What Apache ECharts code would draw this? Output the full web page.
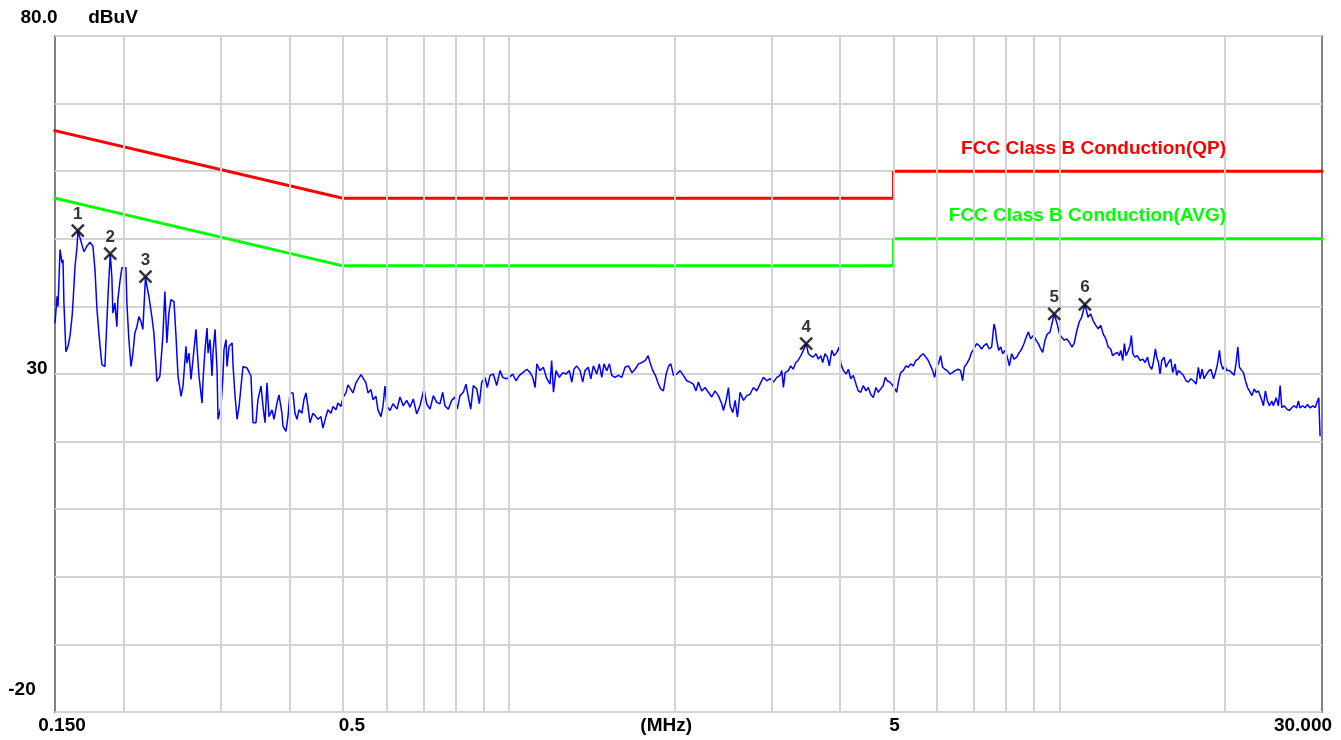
<!DOCTYPE html>
<html>
<head>
<meta charset="utf-8">
<title>Conducted emission scan</title>
<script src="https://cdn.jsdelivr.net/npm/echarts@6/dist/echarts.min.js"></script>
<style>
html, body { margin: 0; padding: 0; background: #fff; }
#chart { width: 1341px; height: 740px; }
</style>
</head>
<body>
<div id="chart"></div>
<script>
// scan trace, MHz / dBuV
var traceFreq = [
  0.1500, 0.1513, 0.1519, 0.1532, 0.1545, 0.1551, 0.1557, 0.1570, 0.1584, 0.1597,
  0.1611, 0.1617, 0.1631, 0.1645, 0.1651, 0.1665, 0.1679, 0.1693, 0.1714, 0.1736,
  0.1758, 0.1773, 0.1788, 0.1810, 0.1825, 0.1848, 0.1864, 0.1872, 0.1890, 0.1903,
  0.1911, 0.1927, 0.1943, 0.1951, 0.1968, 0.1984, 0.2018, 0.2026, 0.2043, 0.2061,
  0.2078, 0.2095, 0.2113, 0.2130, 0.2148, 0.2166, 0.2190, 0.2203, 0.2221, 0.2249,
  0.2268, 0.2287, 0.2297, 0.2326, 0.2355, 0.2375, 0.2395, 0.2415, 0.2436, 0.2467,
  0.2488, 0.2509, 0.2541, 0.2562, 0.2594, 0.2605, 0.2627, 0.2649, 0.2671, 0.2682,
  0.2705, 0.2716, 0.2739, 0.2774, 0.2786, 0.2809, 0.2833, 0.2845, 0.2868, 0.2892,
  0.2904, 0.2929, 0.2954, 0.2966, 0.3003, 0.3028, 0.3041, 0.3067, 0.3080, 0.3106,
  0.3146, 0.3159, 0.3185, 0.3212, 0.3239, 0.3279, 0.3293, 0.3348, 0.3376, 0.3404,
  0.3433, 0.3476, 0.3505, 0.3550, 0.3580, 0.3610, 0.3640, 0.3671, 0.3717, 0.3748,
  0.3795, 0.3827, 0.3875, 0.3891, 0.3940, 0.3974, 0.4007, 0.4058, 0.4092, 0.4126,
  0.4161, 0.4213, 0.4248, 0.4284, 0.4320, 0.4356, 0.4411, 0.4467, 0.4504, 0.4561,
  0.4599, 0.4657, 0.4697, 0.4757, 0.4797, 0.4857, 0.4898, 0.4960, 0.5001, 0.5064,
  0.5107, 0.5172, 0.5215, 0.5281, 0.5326, 0.5393, 0.5438, 0.5506, 0.5553, 0.5623,
  0.5670, 0.5741, 0.5789, 0.5862, 0.5912, 0.5962, 0.6012,
  0.609, 0.6165, 0.627, 0.6348, 0.6436, 0.6528, 0.6619, 0.6711, 0.6808, 0.6902,
  0.7018, 0.7096, 0.7197, 0.7298, 0.7401, 0.7504, 0.7589, 0.7663, 0.777, 0.788,
  0.799, 0.8066, 0.8159, 0.8273, 0.8366, 0.8447, 0.8533, 0.8627, 0.875, 0.8846,
  0.8935, 0.9059, 0.9146, 0.925, 0.9378, 0.9512, 0.9645, 0.9755, 0.989, 1.003,
  1.017, 1.031, 1.046, 1.061, 1.079, 1.094, 1.106, 1.117, 1.125, 1.14,
  1.156, 1.173, 1.189, 1.197, 1.206, 1.219, 1.236, 1.254, 1.271, 1.289,
  1.302, 1.314, 1.329, 1.348, 1.363, 1.376, 1.395, 1.41, 1.425, 1.445,
  1.461, 1.476, 1.49, 1.507, 1.524, 1.539, 1.56, 1.582, 1.605, 1.627,
  1.65, 1.674, 1.697, 1.721, 1.746, 1.771, 1.792, 1.806, 1.827, 1.847,
  1.871, 1.889, 1.91, 1.932, 1.953, 1.97, 1.992, 2.02, 2.048, 2.076,
  2.106, 2.135, 2.165, 2.189, 2.21, 2.242, 2.273, 2.305, 2.338, 2.369,
  2.403, 2.438, 2.455, 2.483, 2.507, 2.524, 2.553, 2.578, 2.603, 2.632,
  2.669, 2.707, 2.744, 2.783, 2.822, 2.861, 2.902, 2.944, 2.984, 3.026,
  3.069, 3.111,
  3.133, 3.155, 3.177, 3.221, 3.252, 3.287, 3.323, 3.355, 3.392, 3.429,
  3.47, 3.502, 3.536, 3.575, 3.615, 3.65, 3.688, 3.718, 3.754, 3.791,
  3.823, 3.862, 3.9, 3.944, 3.982, 4.011, 4.055, 4.101, 4.14, 4.18,
  4.226, 4.274, 4.315, 4.358, 4.406, 4.455, 4.499, 4.544, 4.594, 4.646,
  4.691, 4.738, 4.79, 4.83, 4.871, 4.926, 4.981, 5.029, 5.065, 5.108,
  5.151, 5.207, 5.266, 5.317, 5.37, 5.429, 5.49, 5.543, 5.6, 5.661,
  5.725, 5.781, 5.839, 5.888, 5.937, 5.987, 6.045, 6.088, 6.139, 6.198,
  6.258, 6.33, 6.401, 6.463, 6.553, 6.619, 6.675, 6.72, 6.788, 6.862,
  6.931, 6.998, 7.077, 7.155, 7.227, 7.297, 7.38, 7.461, 7.537, 7.61,
  7.652, 7.696, 7.761, 7.827, 7.893, 7.97, 8.048, 8.115, 8.196, 8.276,
  8.369, 8.461, 8.546, 8.629, 8.702, 8.786, 8.874, 8.972, 9.074, 9.162,
  9.252, 9.33, 9.42, 9.51, 9.619, 9.79, 9.926, 10.01, 10.11, 10.21,
  10.32, 10.43, 10.54, 10.64, 10.76, 10.87, 10.98, 11.13, 11.28, 11.4,
  11.52, 11.65, 11.77, 11.89, 12.02, 12.15, 12.27,
  12.40, 12.50, 12.62, 12.75, 12.85, 12.93, 13.04, 13.13, 13.22, 13.35,
  13.44, 13.52, 13.60, 13.72, 13.86, 14.02, 14.18, 14.32, 14.46, 14.58,
  14.72, 14.82, 14.95, 15.03, 15.14, 15.24, 15.35, 15.50, 15.63, 15.78,
  15.94, 16.07, 16.23, 16.34, 16.46, 16.62, 16.80, 16.99, 17.15, 17.33,
  17.52, 17.72, 17.89, 18.02, 18.17, 18.32, 18.53, 18.69, 18.85, 19.06,
  19.21, 19.38, 19.54, 19.65, 19.82, 19.99, 20.16, 20.37, 20.57, 20.77,
  20.95, 21.10, 21.24, 21.46, 21.60, 21.78, 21.97, 22.15, 22.38, 22.59,
  22.78, 23.00, 23.16, 23.35, 23.48, 23.68, 23.88, 24.08, 24.32, 24.48,
  24.76, 25.00, 25.18, 25.36, 25.61, 25.90, 26.18, 26.44, 26.69, 26.99,
  27.18, 27.37, 27.68, 27.95, 28.22, 28.54, 28.87, 29.15, 29.43, 29.60,
  29.68, 29.76
];
var traceLevel = [
  37.5, 41.5, 40.0, 48.4, 46.4, 46.9, 40.5, 33.3, 34.1, 35.6,
  38.5, 40.5, 45.9, 48.9, 51.2, 50.2, 49.1, 48.1, 48.9, 49.5,
  48.9, 45.4, 39.5, 34.3, 31.4, 31.1, 38.0, 41.5, 47.8, 44.2,
  39.0, 40.5, 37.0, 41.0, 43.7, 45.7, 45.7, 40.5, 35.1, 31.1,
  33.1, 36.1, 37.0, 38.5, 37.8, 36.6, 44.4, 43.0, 41.5, 38.5,
  36.1, 31.6, 28.9, 29.7, 35.6, 42.2, 34.6, 39.0, 41.0, 40.7,
  35.6, 29.7, 26.7, 28.2, 34.1, 31.6, 33.1, 29.2, 32.1, 33.6,
  36.6, 34.1, 29.7, 25.7, 29.2, 33.6, 36.8, 33.1, 35.1, 29.7,
  33.1, 36.6, 30.6, 23.3, 25.2, 29.7, 33.6, 35.1, 31.1, 34.1,
  34.6, 31.1, 26.7, 23.3, 25.2, 29.7, 31.1, 30.9, 30.9, 29.7,
  22.8, 22.8, 26.2, 28.2, 25.2, 22.8, 28.7, 23.7, 24.7, 23.3,
  25.7, 26.9, 24.2, 22.3, 21.5, 23.7, 27.2, 27.2, 24.2, 23.3,
  24.7, 24.2, 26.2, 27.2, 25.2, 22.8, 24.2, 23.7, 23.3, 23.7,
  22.0, 23.7, 24.7, 24.2, 25.2, 24.7, 25.7, 25.2, 26.5, 27.2,
  28.4, 27.7, 27.2, 28.7, 29.2, 29.9, 29.7, 28.7, 27.2, 27.7,
  26.2, 26.7, 24.7, 23.7, 25.2, 28.2, 25.2,
  24.6, 25.6, 24.8, 26.6, 25.3, 26.1, 25.1, 26.3, 24.1, 25.3,
  27.8, 25.6, 24.8, 26.8, 25.8, 25.6, 27.3, 25.3, 24.8, 26.1,
  26.6, 24.8, 26.8, 27.3, 28.5, 26.6, 24.8, 28.3, 27.8, 25.6,
  28.8, 29.5, 28.0, 29.8, 30.0, 28.3, 30.5, 29.5, 29.3, 29.5,
  30.0, 29.0, 29.8, 30.2, 30.7, 30.2, 29.5, 28.0, 31.5, 30.5,
  31.0, 29.3, 28.5, 32.0, 27.3, 30.5, 29.5, 30.2, 30.0, 30.5,
  28.8, 30.7, 31.2, 30.5, 28.8, 30.5, 31.0, 29.3, 31.2, 30.0,
  31.5, 29.5, 31.5, 30.5, 31.5, 29.8, 29.5, 29.8, 29.5, 31.0,
  31.2, 30.2, 30.7, 31.5, 31.7, 32.0, 32.7, 31.7, 30.5, 29.8,
  28.5, 27.8, 27.5, 30.0, 31.2, 31.5, 29.8, 30.0, 30.5, 29.8,
  29.0, 28.8, 28.5, 27.5, 28.8, 27.5, 28.0, 27.3, 26.6, 27.5,
  26.8, 25.6, 24.6, 26.1, 28.0, 25.3, 24.3, 26.1, 23.6, 27.3,
  26.1, 26.8, 27.0, 28.0, 27.5, 28.5, 29.5, 29.0, 29.3, 28.8,
  29.5, 29.8,
  30.5, 28.0, 30.2, 30.5, 31.2, 30.7, 31.7, 32.0, 32.7, 33.5,
  34.5, 33.0, 32.7, 32.5, 33.0, 32.2, 32.7, 31.7, 33.0, 32.5,
  31.2, 33.5, 32.7, 33.2, 34.0, 31.5, 30.5, 30.0, 30.7, 29.3,
  29.8, 28.5, 27.5, 27.3, 28.3, 27.5, 28.0, 27.0, 26.5, 28.0,
  27.3, 27.8, 28.3, 29.5, 29.0, 28.8, 28.3, 27.8, 27.3, 29.0,
  30.2, 30.5, 31.2, 31.0, 31.5, 31.2, 32.0, 32.2, 32.7, 33.0,
  32.5, 32.0, 31.2, 30.5, 29.5, 31.0, 31.7, 32.7, 31.0, 30.7,
  30.5, 30.0, 30.2, 30.5, 30.7, 30.5, 29.0, 31.0, 31.5, 32.2,
  33.2, 33.7, 34.5, 34.2, 33.7, 34.2, 34.5, 33.7, 34.0, 37.4,
  36.7, 35.0, 33.5, 34.0, 33.0, 33.5, 32.5, 31.2, 33.0, 32.2,
  32.5, 33.2, 33.7, 34.5, 35.4, 36.2, 35.2, 35.7, 35.0, 34.5,
  33.7, 33.2, 35.0, 35.9, 36.2, 38.9, 37.2, 35.9, 35.4, 35.0,
  35.2, 34.7, 34.0, 34.5, 36.4, 37.7, 38.4, 40.3, 38.4, 38.9,
  37.9, 37.2, 36.7, 37.2, 35.9, 35.2, 34.0,
  33.7, 32.7, 33.0, 33.2, 32.7, 33.5, 32.0, 34.5, 32.7, 33.5,
  34.2, 35.7, 33.0, 32.5, 32.7, 32.0, 32.2, 31.7, 32.5, 31.2,
  30.7, 31.7, 33.7, 32.5, 31.7, 30.0, 32.0, 32.5, 31.0, 31.7,
  32.2, 30.2, 31.5, 29.8, 30.5, 30.2, 29.8, 29.0, 28.8, 29.3,
  29.0, 28.5, 31.0, 29.3, 30.7, 29.3, 30.0, 30.5, 30.7, 29.3,
  30.2, 31.5, 33.5, 31.7, 30.7, 31.2, 30.5, 30.5, 30.2, 29.8,
  31.7, 34.0, 31.0, 30.5, 30.2, 29.0, 28.0, 27.5, 26.8, 27.8,
  27.3, 27.5, 26.8, 26.0, 25.3, 27.5, 26.0, 25.3, 26.0, 25.3,
  26.5, 25.3, 28.3, 25.0, 25.3, 24.8, 24.6, 25.0, 25.3, 25.0,
  26.0, 25.0, 25.3, 25.0, 25.5, 25.0, 25.3, 25.0, 26.0, 26.5,
  23.6, 20.8
];

// FCC Part 15 class B conducted limits
var qpFreq = [0.15, 0.5, 5, 5, 30];
var qpLevel = [66, 56, 56, 60, 60];
var avgFreq = [0.15, 0.5, 5, 5, 30];
var avgLevel = [56, 46, 46, 50, 50];

// peak markers
var markNames = ['1', '2', '3', '4', '5', '6'];
var markFreq = [0.165, 0.189, 0.219, 3.47, 9.79, 11.13];
var markLevel = [51.2, 47.8, 44.4, 34.5, 38.9, 40.3];

// vertical log grid lines
var gridFreqs = [0.2, 0.3, 0.4, 0.5, 0.6, 0.7, 0.8, 0.9, 1, 2, 3, 4, 5, 6, 7, 8, 9, 10, 20];

// axis texts
var xTickValues = [0.15, 0.5, 5, 30];
var xTickLabels = ['0.150', '0.5', '5', '30.000'];
var yTickValues = [80, 30, -20];
var yTickLabels = ['80.0', '30', '-20'];
var xUnit = '(MHz)';
var yUnit = 'dBuV';
var qpName = 'FCC Class B Conduction(QP)';
var avgName = 'FCC Class B Conduction(AVG)';

function zip(a, b) {
    var out = [];
    for (var i = 0; i < a.length; i++) out.push([a[i], b[i]]);
    return out;
}

var FONT = 'bold 19px "Liberation Sans", Arial, sans-serif';
var GRID_COLOR = '#d3d3d3';

var myChart = echarts.init(document.getElementById('chart'));

var markData = markNames.map(function(n, i) {
    return { name: n, value: [markFreq[i], markLevel[i]] };
});

var option = {
    animation: false,
    backgroundColor: '#ffffff',
    grid: {
        left: 55, right: 19, top: 36, bottom: 28,
        show: true,
        borderColor: '#808080',
        borderWidth: 2,
        backgroundColor: '#ffffff'
    },
    xAxis: {
        type: 'log',
        logBase: 10,
        min: 0.15,
        max: 30,
        axisLine: { show: false },
        axisTick: { show: false },
        axisLabel: { show: false },
        splitLine: { show: false }
    },
    yAxis: {
        type: 'value',
        min: -20,
        max: 80,
        interval: 10,
        axisLine: { show: false },
        axisTick: { show: false },
        axisLabel: { show: false },
        splitLine: { show: true, lineStyle: { color: GRID_COLOR, width: 2 } }
    },
    series: [
        {
            name: 'grid',
            type: 'line',
            z: 1,
            silent: true,
            showSymbol: false,
            data: [[0.15, -20]],
            lineStyle: { opacity: 0 },
            markLine: {
                silent: true,
                symbol: ['none', 'none'],
                label: { show: false },
                lineStyle: { color: GRID_COLOR, width: 2, type: 'solid' },
                data: gridFreqs.map(function(f) { return { xAxis: f }; })
            }
        },
        {
            name: qpName,
            type: 'line',
            z: 3,
            showSymbol: false,
            data: zip(qpFreq, qpLevel),
            lineStyle: { color: '#ff0000', width: 3, cap: 'square' }
        },
        {
            name: avgName,
            type: 'line',
            z: 3,
            showSymbol: false,
            data: zip(avgFreq, avgLevel),
            lineStyle: { color: '#00ff00', width: 3, cap: 'square' }
        },
        {
            name: 'scan',
            type: 'line',
            z: 4,
            showSymbol: false,
            data: zip(traceFreq, traceLevel),
            lineStyle: { color: '#0000ff', width: 1.5 }
        },
        {
            name: 'markers',
            type: 'scatter',
            z: 5,
            symbol: 'path://M0,0L10,10M10,0L0,10',
            symbolSize: [12, 12],
            itemStyle: { color: 'rgba(0,0,0,0)', borderColor: '#000000', borderWidth: 2.5 },
            label: {
                show: true,
                position: 'top',
                distance: 1,
                formatter: '{b}',
                color: '#000000',
                fontSize: 17,
                fontWeight: 'bold',
                fontFamily: '"Liberation Sans", Arial, sans-serif'
            },
            data: markData
        }
    ]
};
myChart.setOption(option);

// axis texts placed from the chart's own scales
function px(f, v) {
    return myChart.convertToPixel({ xAxisIndex: 0, yAxisIndex: 0 }, [f, v]);
}

var texts = [];
function addText(str, p, dx, dy, align, color) {
    texts.push({
        type: 'text',
        z: 10,
        style: {
            text: str,
            x: p[0] + dx,
            y: p[1] + dy,
            textAlign: align,
            textVerticalAlign: 'middle',
            font: FONT,
            fill: color || '#000000'
        }
    });
}

var xDx = [7, 9, 1, -19];
xTickValues.forEach(function(f, i) {
    addText(xTickLabels[i], px(f, -20), xDx[i], 14, 'center');
});
addText(xUnit, px(1.9, -20), 4, 14, 'center');

var yDx = [-16, -18, -33];
var yDy = [-18, -5, -22];
yTickValues.forEach(function(v, i) {
    addText(yTickLabels[i], px(0.15, v), yDx[i], yDy[i], 'center');
});
addText(yUnit, px(0.15, 80), 58, -18, 'center');

addText(qpName, px(20, qpLevel[4]), 1, -22, 'right', '#ff0000');
addText(avgName, px(20, avgLevel[4]), 1, -23, 'right', '#00ff00');

myChart.setOption({ graphic: texts });
</script>
</body>
</html>
